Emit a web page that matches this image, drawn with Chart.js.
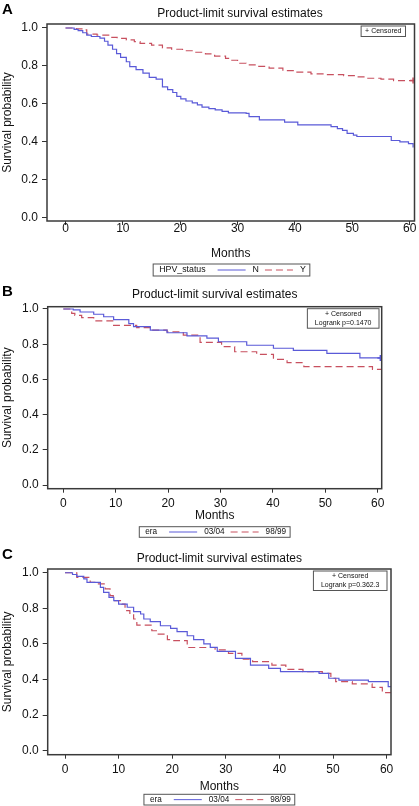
<!DOCTYPE html>
<html>
<head>
<meta charset="utf-8">
<script src="https://cdn.jsdelivr.net/npm/chart.js@4/dist/chart.umd.min.js"></script>
<style>
  body { margin: 0; background: #fff; }
  #wrap { position: relative; width: 419px; height: 806px; overflow: hidden; }
  canvas { position: absolute; left: 0; }
</style>
</head>
<body>
<div id="wrap">
  <canvas id="chartA" width="419" height="280" style="top:0"></canvas>
  <canvas id="chartB" width="419" height="260" style="top:280px"></canvas>
  <canvas id="chartC" width="419" height="266" style="top:540px"></canvas>
</div>
<script>
const FONT = "'Liberation Sans', Arial, Helvetica, sans-serif";
const BLUE = '#5a5ad8';
const RED = '#c8505f';

const xTicks = [0, 10, 20, 30, 40, 50, 60];
const yTicks = [0, 0.2, 0.4, 0.6, 0.8, 1.0];

// Panel A - HPV status (months, survival)
const hpvN_t = [0, 1.5, 2.2, 3.0, 3.7, 4.5, 6.0, 6.8, 7.4, 8.2, 8.9, 9.6, 10.6, 11.2, 12.3, 13.5, 14.6, 15.8, 16.9, 17.8, 18.7, 19.4, 20.1, 21.0, 22.1, 23.0, 23.8, 25.0, 26.1, 27.3, 28.4, 31.5, 32.0, 33.8, 38.2, 40.5, 46.3, 47.4, 48.3, 49.1, 50.2, 50.8, 56.8, 58.3, 59.8, 60.6];
const hpvN_s = [1.0, 0.993, 0.986, 0.975, 0.962, 0.955, 0.947, 0.93, 0.91, 0.888, 0.865, 0.845, 0.822, 0.796, 0.78, 0.762, 0.74, 0.73, 0.69, 0.675, 0.66, 0.64, 0.626, 0.615, 0.605, 0.595, 0.583, 0.575, 0.568, 0.56, 0.553, 0.55, 0.533, 0.516, 0.504, 0.489, 0.48, 0.47, 0.46, 0.445, 0.435, 0.428, 0.407, 0.40, 0.39, 0.37];
const hpvY_t = [0, 1.9, 3.1, 3.7, 5.5, 7.8, 9.0, 10.6, 12.0, 13.0, 15.0, 16.9, 18.5, 20.4, 22.5, 24.4, 26.0, 27.9, 29.0, 30.0, 31.5, 33.4, 35.5, 37.9, 40.0, 42.8, 45.5, 48.5, 50.5, 52.6, 55.0, 57.2, 60.6];
const hpvY_s = [1.0, 0.995, 0.99, 0.968, 0.962, 0.951, 0.945, 0.937, 0.928, 0.919, 0.91, 0.895, 0.888, 0.88, 0.872, 0.863, 0.852, 0.84, 0.83, 0.814, 0.806, 0.798, 0.788, 0.775, 0.767, 0.758, 0.754, 0.749, 0.742, 0.735, 0.73, 0.723, 0.723];

// Panel B - era
const eraB0304_t = [0, 1.9, 3.2, 5.8, 7.7, 9.6, 12.5, 13.4, 16.6, 19.8, 23.6, 27.4, 29.6, 35.0, 40.1, 43.9, 50.3, 56.6, 60.5];
const eraB0304_s = [1.0, 0.995, 0.983, 0.97, 0.956, 0.94, 0.917, 0.9, 0.88, 0.865, 0.847, 0.835, 0.814, 0.794, 0.777, 0.765, 0.748, 0.722, 0.722];
const eraB9899_t = [0, 1.6, 2.2, 3.5, 5.8, 9.6, 14.0, 16.6, 19.8, 22.9, 26.1, 30.2, 32.7, 36.9, 40.1, 42.7, 45.9, 59.0, 60.8];
const eraB9899_s = [1.0, 0.975, 0.964, 0.951, 0.932, 0.907, 0.894, 0.88, 0.87, 0.852, 0.81, 0.786, 0.757, 0.742, 0.714, 0.695, 0.672, 0.657, 0.657];

// Panel C - era
const eraC0304_t = [0, 1.4, 2.2, 3.5, 4.1, 6.6, 7.2, 8.2, 9.1, 10.0, 11.6, 12.8, 14.1, 14.7, 15.9, 17.8, 19.7, 20.9, 22.8, 24.0, 25.9, 27.1, 28.4, 31.8, 34.6, 38.0, 40.2, 47.4, 49.2, 51.1, 56.6, 60.3, 60.8];
const eraC0304_s = [1.0, 0.99, 0.98, 0.965, 0.946, 0.918, 0.89, 0.862, 0.843, 0.824, 0.806, 0.781, 0.768, 0.74, 0.725, 0.702, 0.687, 0.669, 0.646, 0.624, 0.6, 0.581, 0.558, 0.519, 0.481, 0.463, 0.444, 0.434, 0.407, 0.397, 0.388, 0.36, 0.36];
const eraC9899_t = [0, 2.2, 4.7, 6.0, 7.5, 8.4, 9.0, 10.6, 11.2, 12.1, 12.8, 13.4, 16.2, 17.2, 19.1, 20.3, 22.8, 28.0, 30.5, 33.0, 35.0, 38.6, 41.2, 44.4, 48.0, 49.6, 50.5, 53.6, 57.3, 59.2, 60.8];
const eraC9899_s = [1.0, 0.974, 0.946, 0.937, 0.909, 0.871, 0.843, 0.824, 0.787, 0.768, 0.74, 0.706, 0.674, 0.655, 0.624, 0.618, 0.58, 0.566, 0.547, 0.515, 0.5, 0.481, 0.457, 0.444, 0.434, 0.407, 0.388, 0.375, 0.356, 0.326, 0.326];

// draws frame, panel letter, title, censored note and the boxed legend
const decor = {
  id: 'decor',
  afterDraw(chart, args, o) {
    const { ctx, chartArea: a } = chart;
    const mid = (a.left + a.right) / 2;
    ctx.save();
    ctx.strokeStyle = '#3a3a3a';
    ctx.lineWidth = 1.5;
    ctx.strokeRect(a.left, a.top, a.right - a.left, a.bottom - a.top);

    ctx.fillStyle = '#000';
    ctx.textBaseline = 'middle';
    ctx.textAlign = 'left';
    ctx.font = 'bold 15px ' + FONT;
    ctx.fillText(o.letter, 2, o.letterY);

    ctx.fillStyle = '#111';
    ctx.font = '12px ' + FONT;
    ctx.textAlign = 'center';
    ctx.fillText('Product-limit survival estimates', o.titleX || mid, o.titleY);

    // censored note
    ctx.font = '7px ' + FONT;
    const nw = Math.max(...o.note.map(s => ctx.measureText(s).width)) + o.notePad * 2;
    const nh = o.note.length * 9 + 1.5;
    const bx = a.right - o.noteInset - nw, by = a.top + 2;
    ctx.lineWidth = 1;
    ctx.strokeStyle = '#555';
    ctx.strokeRect(bx, by, nw, nh);
    o.note.forEach((s, i) => ctx.fillText(s, bx + nw / 2, by + 5.3 + i * 9));

    // legend
    ctx.font = o.legendFont + 'px ' + FONT;
    const ds = chart.data.datasets;
    const headW = ctx.measureText(o.legendTitle).width;
    let w = 6 + headW + 12;
    ds.forEach((d, i) => { w += 28 + 7 + ctx.measureText(d.label).width + (i < ds.length - 1 ? 6 : 4); });
    const lx = (o.legendX || mid) - w / 2;
    ctx.strokeStyle = '#555';
    ctx.strokeRect(lx, o.legendTop, w, o.legendH);
    const cy = o.legendTop + o.legendH / 2;
    let cx = lx + 6;
    ctx.textAlign = 'left';
    ctx.fillText(o.legendTitle, cx, cy);
    cx += headW + 12;
    ds.forEach(d => {
      ctx.strokeStyle = d.borderColor;
      ctx.lineWidth = 1;
      ctx.setLineDash(d.borderDash || []);
      ctx.beginPath();
      ctx.moveTo(cx, cy);
      ctx.lineTo(cx + 28, cy);
      ctx.stroke();
      ctx.setLineDash([]);
      cx += 35;
      ctx.fillText(d.label, cx, cy);
      cx += ctx.measureText(d.label).width + 6;
    });
    ctx.restore();
  }
};

function makeChart(id, series, cfg) {
  const tickFont = { family: FONT, size: 12 };
  new Chart(document.getElementById(id), {
    type: 'line',
    data: {
      datasets: series.map(s => ({
        label: s.label,
        data: s.t.map((t, i) => ({ x: t, y: s.s[i] })),
        borderColor: s.color,
        backgroundColor: s.color,
        borderWidth: 1.2,
        borderDash: s.dash,
        stepped: true,
        fill: false,
        pointStyle: 'cross',
        pointRadius: c => (s.censor && c.dataIndex === s.t.length - 1) ? 3 : 0,
        pointBorderWidth: 1.5,
        pointHoverRadius: 0
      }))
    },
    options: {
      responsive: false,
      animation: false,
      events: [],
      layout: { padding: cfg.pad },
      plugins: { legend: { display: false }, tooltip: { enabled: false }, decor: cfg.decor },
      scales: {
        x: {
          type: 'linear', min: cfg.xMin, max: cfg.xMax,
          afterBuildTicks: ax => { ax.ticks = xTicks.map(v => ({ value: v })); },
          afterFit: ax => { ax.height = cfg.xH; ax.paddingLeft = 0; ax.paddingRight = 0; },
          grid: { drawOnChartArea: false, tickLength: cfg.xTickLen, color: '#333' },
          border: { display: false },
          ticks: { font: tickFont, color: '#111', padding: cfg.xPad, maxRotation: 0, autoSkip: false },
          title: { display: true, text: 'Months', font: tickFont, color: '#111', padding: 0 }
        },
        y: {
          min: cfg.yMin, max: cfg.yMax,
          afterBuildTicks: ax => { ax.ticks = yTicks.map(v => ({ value: v })); },
          afterFit: ax => { ax.width = cfg.yW; ax.paddingTop = 0; ax.paddingBottom = 0; },
          grid: { drawOnChartArea: false, tickLength: 5, color: '#333' },
          border: { display: false },
          ticks: { font: tickFont, color: '#111', padding: 4, callback: v => v.toFixed(1) },
          title: { display: true, text: 'Survival probability', font: tickFont, color: '#111', padding: 0 }
        }
      }
    },
    plugins: [decor]
  });
}

makeChart('chartA', [
  { label: 'N', t: hpvN_t, s: hpvN_s, color: BLUE, dash: [] },
  { label: 'Y', t: hpvY_t, s: hpvY_s, color: RED, dash: [7, 4], censor: true }
], {
  pad: { top: 24, right: 1, bottom: 18.8, left: 0 }, xH: 40.2, yW: 47, xTickLen: 4, xPad: -3.7,
  xMin: -3.23, xMax: 60.85, yMin: -0.0174, yMax: 1.021,
  decor: { letter: 'A', letterY: 10, titleX: 240, titleY: 14,
    note: ['+ Censored'], notePad: 4, noteInset: 9,
    legendTitle: 'HPV_status', legendTop: 264, legendH: 12, legendFont: 8.8, legendX: 231.5 }
});

makeChart('chartB', [
  { label: '03/04', t: eraB0304_t, s: eraB0304_s, color: BLUE, dash: [], censor: true },
  { label: '98/99', t: eraB9899_t, s: eraB9899_s, color: RED, dash: [7, 4] }
], {
  pad: { top: 26.7, right: 37.3, bottom: 16.8, left: 0 }, xH: 34.5, yW: 47.7, xTickLen: 4, xPad: 4,
  xMin: -2.98, xMax: 60.76, yMin: -0.021, yMax: 1.013,
  decor: { letter: 'B', letterY: 12, titleY: 15,
    note: ['+ Censored', 'Logrank p=0.1470'], notePad: 7.5, noteInset: 2.7,
    legendTitle: 'era', legendTop: 246.7, legendH: 10.6, legendFont: 8.2 }
});

makeChart('chartC', [
  { label: '03/04', t: eraC0304_t, s: eraC0304_s, color: BLUE, dash: [] },
  { label: '98/99', t: eraC9899_t, s: eraC9899_s, color: RED, dash: [7, 4] }
], {
  pad: { top: 29, right: 28, bottom: 11.8, left: 0 }, xH: 39.5, yW: 47.7, xTickLen: 4, xPad: 4,
  xMin: -3.23, xMax: 60.82, yMin: -0.0225, yMax: 1.021,
  decor: { letter: 'C', letterY: 15, titleY: 19,
    note: ['+ Censored', 'Logrank p=0.362.3'], notePad: 7.5, noteInset: 4,
    legendTitle: 'era', legendTop: 254.3, legendH: 10.7, legendFont: 8.2 }
});
</script>
</body>
</html>
